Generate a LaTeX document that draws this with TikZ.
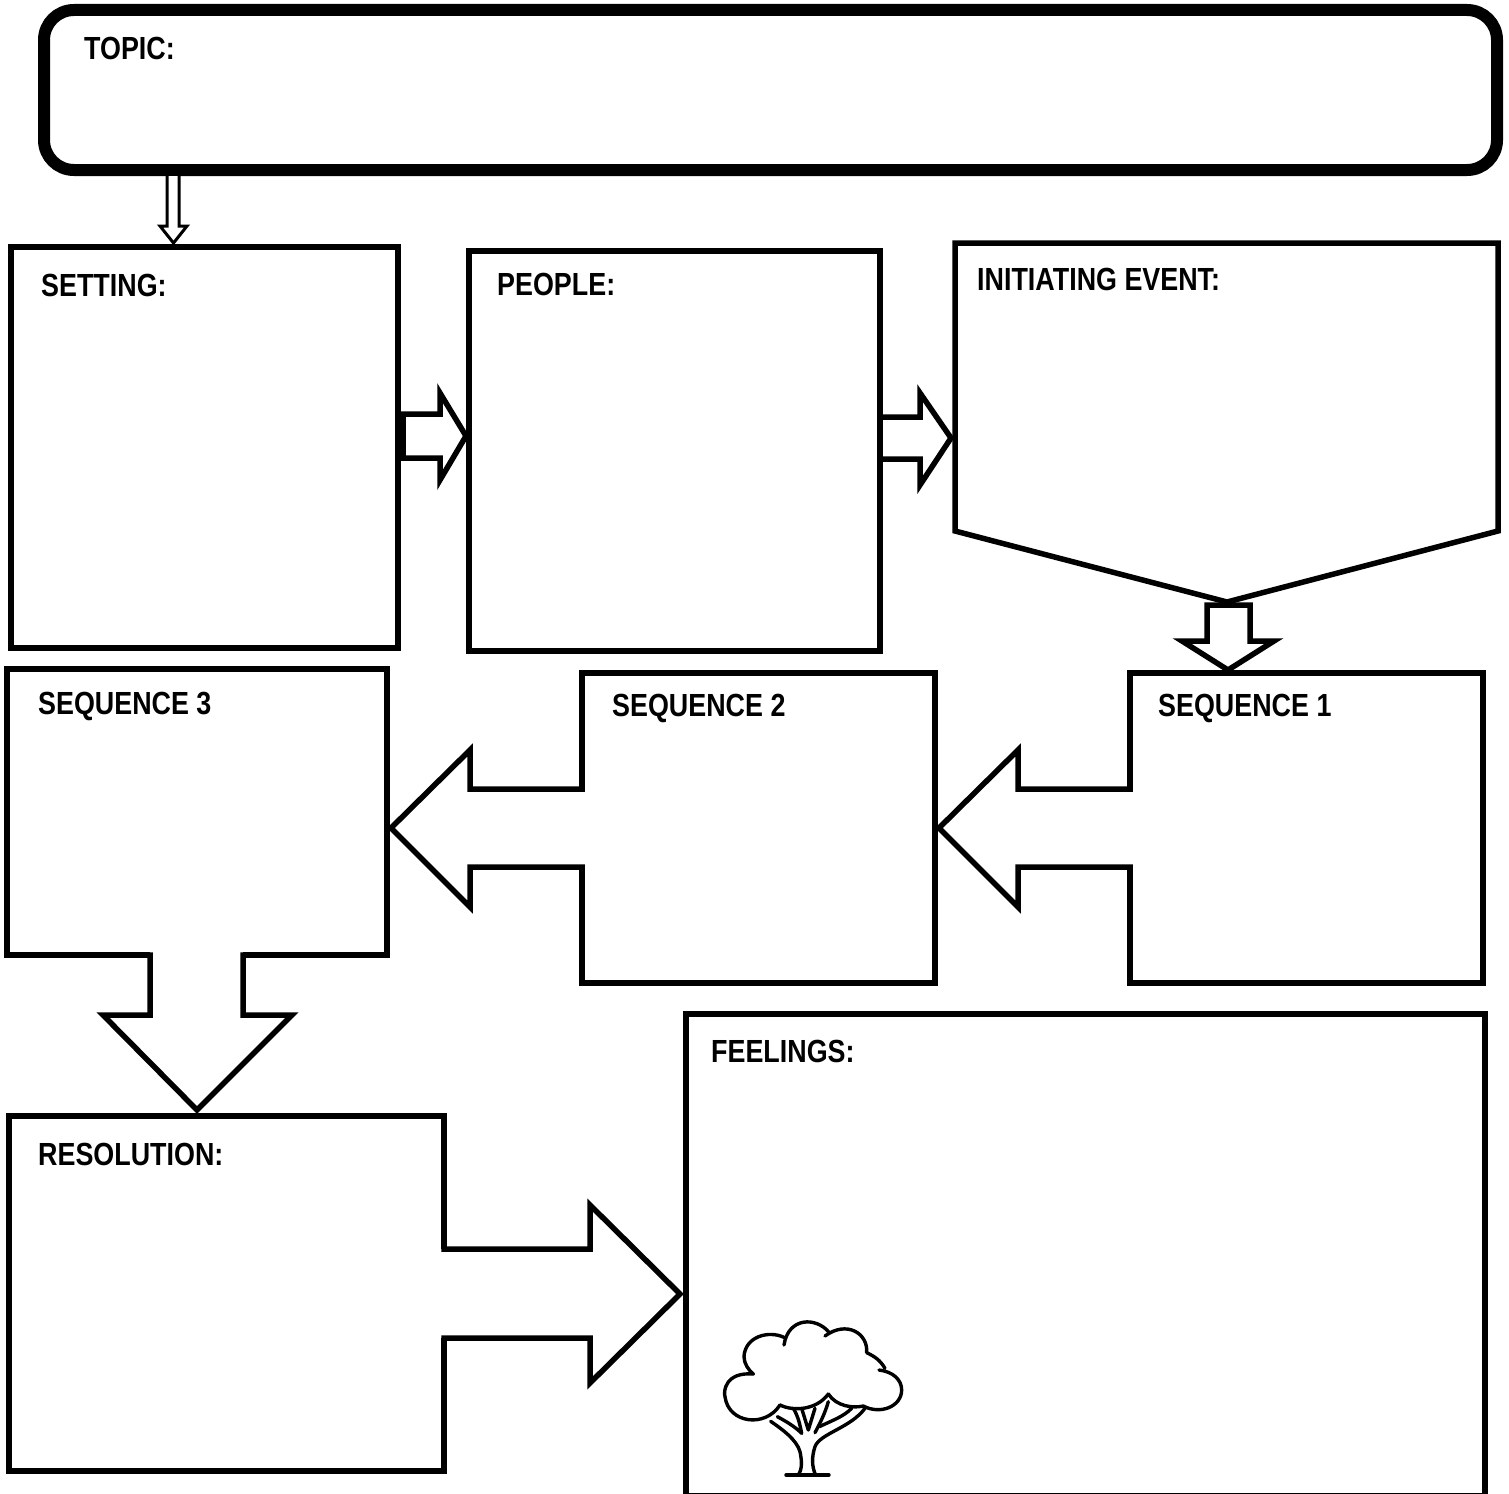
\documentclass[tikz,border=0pt]{standalone}
\usepackage{fontspec}
\setmainfont[FakeStretch=0.84]{Liberation Sans}
\begin{document}
\begin{tikzpicture}[x=1pt,y=-1pt,
	box/.style={rectangle,draw,line width=5.5pt,inner sep=0pt,outer sep=0pt},
	head/.style={anchor=base west,inner sep=0pt,font=\fontsize{32}{32}\selectfont\bfseries},
	blockarrow/.style={draw,fill=white,line width=5.5pt,miter limit=10,line cap=rect},
	gap/.style={draw=white,line width=8pt}]
	\useasboundingbox (0,0) rectangle (1509,1493);
	\fill[white] (0,0) rectangle (1509,1493);

	\node (topic)[box,rounded corners=30pt,line width=12pt,minimum width=1453pt,minimum height=160pt] at (770.5,90) {};
	\node (setting)[box,minimum width=387pt,minimum height=401pt] at (204.5,447.5) {};
	\node (people)[box,minimum width=411pt,minimum height=400pt] at (674.5,451) {};
	\draw[line width=5.5pt,line join=miter] (955,243) -- (1498,243) -- (1498,531) -- (1227,602) coordinate (inittip) -- (955,531) -- cycle;
	\node (seqone)[box,minimum width=353pt,minimum height=310pt] at (1306.5,828) {};
	\node (seqtwo)[box,minimum width=353pt,minimum height=310pt] at (758.5,828) {};
	\node (seqthree)[box,minimum width=380pt,minimum height=286pt] at (197,812) {};
	\node (resolution)[box,minimum width=435pt,minimum height=355pt] at (226.5,1293.5) {};
	\node (feelings)[box,minimum width=799pt,minimum height=481.7pt] at (1085.5,1254.85) {};

	% small arrows
	\draw[fill=white,line width=3pt] (167,176) -- (167,226) -- (160,226) -- (173.5,243) -- (187,226) -- (179,226) -- (179,176);
	\draw[blockarrow] (403,414) -- (440,414) -- (440,393) -- (466,436) -- (440,480) -- (440,458) -- (403,458) -- cycle;
	\draw[blockarrow,line cap=butt] ([xshift=3pt]people.east |- 0,417) -- (920,417) -- (920,393) -- (951,438) -- (920,485) -- (920,459) -- ([xshift=3pt]people.east |- 0,459);
	\draw[blockarrow] (1207,605) -- (1250,605) -- (1250,641) -- (1274,641) -- (1228,670) -- (1182,641) -- (1207,641) -- cycle;

	% big arrows
	\draw[gap] (seqone.west |- 0,789) -- (seqone.west |- 0,867);
	\draw[blockarrow] (seqone.west |- 0,789) -- (1018,789) -- (1018,750) -- ([xshift=4pt]seqtwo.east) -- (1018,907) -- (1018,867) -- (seqone.west |- 0,867);
	\draw[gap] (seqtwo.west |- 0,789) -- (seqtwo.west |- 0,867);
	\draw[blockarrow] (seqtwo.west |- 0,789) -- (470,789) -- (470,750) -- (391,828) -- (470,907) -- (470,867) -- (seqtwo.west |- 0,867);
	\draw[gap] (150,955) -- (243,955);
	\draw[blockarrow] (150,955) -- (150,1015) -- (103,1015) -- (197,1110) -- (292,1015) -- (243,1015) -- (243,955);
	\draw[gap] (resolution.east |- 0,1249) -- (resolution.east |- 0,1338);
	\draw[blockarrow] (resolution.east |- 0,1249) -- (590,1249) -- (590,1205) -- (680,1294) -- (590,1383) -- (590,1338) -- (resolution.east |- 0,1338);

	\node (topiclabel)[head] at (84,60) {TOPIC:};
	\node (settinglabel)[head] at (41,296) {SETTING:};
	\node (peoplelabel)[head] at (497,295) {PEOPLE:};
	\node (initlabel)[head] at (977,290) {INITIATING EVENT:};
	\node (seqonelabel)[head] at (1158,716) {SEQUENCE 1};
	\node (seqtwolabel)[head] at (612,716) {SEQUENCE 2};
	\node (seqthreelabel)[head] at (38,714) {SEQUENCE 3};
	\node (resolutionlabel)[head] at (38,1165) {RESOLUTION:};
	\node (feelingslabel)[head] at (711,1062) {FEELINGS:};

	% tree
	\begin{scope}[shift={(700,1300)},x=0.3333pt,y=-0.3333pt,line width=3.4pt,line cap=round,line join=round]
		\draw (160,222) .. controls (75,215) and (70,275) .. (75,290) .. controls (85,370) and (195,385) .. (240,315);
		\draw (240,315) .. controls (280,335) and (350,330) .. (385,282);
		\draw (385,282) .. controls (410,320) and (460,325) .. (490,318);
		\draw (490,318) .. controls (540,345) and (605,320) .. (605,270) .. controls (605,240) and (580,215) .. (537,210);
		\draw (555,205) .. controls (540,180) and (525,170) .. (500,158);
		\draw (500,158) .. controls (505,100) and (440,60) .. (375,108);
		\draw (388,98) .. controls (350,50) and (265,50) .. (252,135);
		\draw (252,112) .. controls (205,90) and (135,110) .. (132,170) .. controls (132,190) and (145,210) .. (160,222);
		\draw (258,525) -- (387,525);
		\draw (295,525) .. controls (308,505) and (305,480) .. (300,455) .. controls (290,420) and (250,390) .. (212,364);
		\draw (347,525) .. controls (335,500) and (335,470) .. (345,440) .. controls (360,400) and (450,385) .. (495,325);
		\draw (232,350) .. controls (260,365) and (285,380) .. (305,400) .. controls (300,375) and (295,350) .. (280,325);
		\draw (305,325) -- (325,390) -- (345,325);
		\draw (345,398) .. controls (360,370) and (375,340) .. (385,305);
		\draw (358,380) .. controls (400,360) and (430,350) .. (455,325);
	\end{scope}
\end{tikzpicture}
\end{document}
